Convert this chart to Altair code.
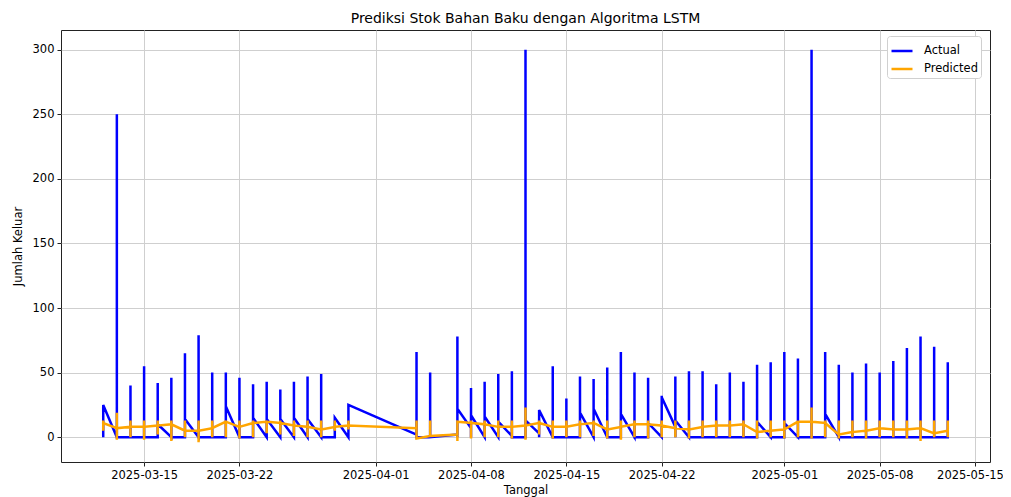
import altair as alt
import pandas as pd

# ---- data ----
dates = [
    "2025-03-12", "2025-03-13", "2025-03-14", "2025-03-15", "2025-03-16", "2025-03-17",
    "2025-03-18", "2025-03-19", "2025-03-20", "2025-03-21", "2025-03-22", "2025-03-23",
    "2025-03-24", "2025-03-25", "2025-03-26", "2025-03-27", "2025-03-28", "2025-03-29",
    "2025-03-30", "2025-04-04", "2025-04-05", "2025-04-07", "2025-04-08", "2025-04-09",
    "2025-04-10", "2025-04-11", "2025-04-12", "2025-04-13", "2025-04-14", "2025-04-15",
    "2025-04-16", "2025-04-17", "2025-04-18", "2025-04-19", "2025-04-20", "2025-04-21",
    "2025-04-22", "2025-04-23", "2025-04-24", "2025-04-25", "2025-04-26", "2025-04-27",
    "2025-04-28", "2025-04-29", "2025-04-30", "2025-05-01", "2025-05-02", "2025-05-03",
    "2025-05-04", "2025-05-05", "2025-05-06", "2025-05-07", "2025-05-08", "2025-05-09",
    "2025-05-10", "2025-05-11", "2025-05-12", "2025-05-13",
]
# Actual: first value of the day, highest value of the day, last value of the day
actual_first = [0, 0, 0, 0, 0, 0, 0, 0, 0, 0, 0, 0, 0, 0, 0, 0, 0, 0,
                0, 2, 0, 2, 7, 0, 0, 1, 0, 3, 0, 0, 0, 0, 0, 0, 0, 0,
                0, 8, 0, 0, 0, 0, 0, 0, 0, 0, 0, 0, 0, 0, 0, 0, 0, 0,
                0, 0, 0, 0]
actual_peak = [25, 250, 40, 55, 42, 46, 65, 79, 50, 50, 46, 41, 43, 37, 43, 47, 49, 15,
               25, 66, 50, 78, 38, 43, 49, 51, 300, 21, 55, 30, 47, 45, 54, 66, 50, 46,
               32, 47, 51, 51, 41, 50, 43, 56, 58, 66, 61, 300, 66, 56, 50, 57, 50, 59,
               69, 78, 70, 58]
actual_last = [25, 0, 0, 0, 10, 0, 14, 0, 0, 24, 0, 15, 14, 14, 15, 14, 0, 15,
               25, 0, 0, 22, 17, 16, 12, 0, 13, 21, 0, 0, 19, 22, 0, 18, 0, 11,
               31, 13, 0, 0, 0, 0, 0, 12, 0, 11, 0, 0, 18, 0, 0, 0, 0, 0,
               0, 0, 0, 0]
# Predicted: first value, highest, lowest, last value of the day
pred_first = [11, 7, 8, 8, 9, 10, 5, 5, 7, 12, 8, 11, 12, 11, 9, 8, 6, 8,
              9, 7, 1, 2, 11, 10, 8, 8, 9, 11, 8, 8, 10, 11, 6, 8, 10, 10,
              9, 7, 6, 8, 9, 9, 10, 4, 5, 6, 12, 12, 11, 2, 4, 5, 7, 6,
              6, 7, 3, 5]
pred_high = [13, 19, 13, 13, 13, 13, 13, 13, 13, 13, 13, 13, 13, 13, 13, 13, 13, 13,
             13, 13, 13, 13, 13, 13, 13, 13, 23, 13, 13, 13, 13, 13, 13, 13, 13, 13,
             13, 13, 13, 13, 13, 13, 13, 13, 13, 13, 13, 23, 13, 13, 13, 13, 13, 13,
             13, 13, 13, 13]
pred_low = [5, -2, 0, -2, 2, -3, 0, -4, 0, 0, -1, 0, 3, 2, 1, 0, 0, 5,
            6, -1, 0, -3, -1, 0, 0, -1, -2, 2, -1, 0, 0, 1, -1, -2, 0, -1,
            0, 0, -1, 0, 0, 0, 0, -1, 0, -1, 0, -1, 0, -1, 0, -1, 0, 0,
            -1, -3, 0, 0]
pred_last = [11, 7, 8, 8, 9, 10, 5, 5, 7, 12, 8, 11, 12, 11, 9, 8, 6, 8,
             9, -1, 1, 12, 11, 10, 8, 8, 9, 11, 8, 8, 10, 11, 6, 8, 10, 10,
             9, 7, 6, 8, 9, 9, 10, 4, 5, 6, 12, 12, 11, 2, 4, 5, 7, 6,
             6, 7, 3, 5]

tick_dates = ["2025-03-15", "2025-03-22", "2025-04-01", "2025-04-08", "2025-04-15",
              "2025-04-22", "2025-05-01", "2025-05-08", "2025-05-15"]
y_ticks = [0, 50, 100, 150, 200, 250, 300]

# ---- long table: four records per day, drawn in record order ----
rows = []
idx = 0
for i, d in enumerate(dates):
    act = [actual_first[i], actual_peak[i], 0, actual_last[i]]
    pre = [pred_first[i], pred_high[i], pred_low[i], pred_last[i]]
    for k in range(4):
        rows.append({"Tanggal": d + "T00:00:00", "idx": idx, "series": "Actual", "value": act[k]})
        rows.append({"Tanggal": d + "T00:00:00", "idx": idx, "series": "Predicted", "value": pre[k]})
        idx += 1
df = pd.DataFrame(rows)


def dt(s, h=0, m=0):
    y, mo, dd = (int(p) for p in s.split("-"))
    return alt.DateTime(year=y, month=mo, date=dd, hours=h, minutes=m)


font = "DejaVu Sans"

chart = alt.Chart(df).mark_line(strokeWidth=2.5, strokeJoin="miter", strokeCap="butt").encode(
    x=alt.X(
        "Tanggal:T",
        scale=alt.Scale(domain=[dt("2025-03-08", 21, 36), dt("2025-05-16", 2, 24)], nice=False),
        axis=alt.Axis(
            values=[dt(t) for t in tick_dates],
            format="%Y-%m-%d",
            title="Tanggal",
            titleY=22,
            titleBaseline="top",
            labelAngle=0,
            labelOffset={"condition": {"test": "month(datum.value) == 4 && date(datum.value) == 15",
                                       "value": -5}, "value": 0},
        ),
    ),
    y=alt.Y(
        "value:Q",
        scale=alt.Scale(domain=[-19.2, 315.2], nice=False, zero=False),
        axis=alt.Axis(
            values=y_ticks,
            title="Jumlah Keluar",
            titleX=-43,
            titleY=216,
            titleBaseline="middle",
            titleAlign="center",
        ),
    ),
    color=alt.Color(
        "series:N",
        scale=alt.Scale(domain=["Actual", "Predicted"], range=["#0000ff", "#ffa500"]),
        legend=alt.Legend(
            title=None,
            orient="none",
            legendX=826,
            legendY=6,
            symbolType="stroke",
            symbolSize=441,
            symbolStrokeWidth=2.5,
            labelFont=font,
            labelFontSize=11.5,
            labelColor="#000000",
            fillColor="#ffffff",
            strokeColor="#d0d0d0",
            cornerRadius=3,
            padding=3,
            rowPadding=0,
            labelOffset=10,
        ),
    ),
    order=alt.Order("idx:Q"),
).properties(
    width=929,
    height=432,
    title=alt.Title(
        "Prediksi Stok Bahan Baku dengan Algoritma LSTM",
        font=font,
        fontSize=14,
        fontWeight="normal",
        color="#000000",
        anchor="middle",
        offset=4,
    ),
    padding={"left": 53, "top": 22, "right": 13, "bottom": 35},
    autosize=alt.AutoSizeParams(type="none"),
).configure_view(
    stroke="#222222", strokeWidth=1
).configure_axis(
    labelFont=font,
    labelFontSize=11.5,
    labelColor="#000000",
    titleFont=font,
    titleFontSize=11.5,
    titleFontWeight="normal",
    titleColor="#000000",
    grid=True,
    gridColor="#cfcfcf",
    gridWidth=1,
    domain=False,
    ticks=True,
    tickColor="#222222",
    tickSize=4,
    labelPadding=3,
)

chart.save("out.html", embed_options={"renderer": "svg", "actions": False})
